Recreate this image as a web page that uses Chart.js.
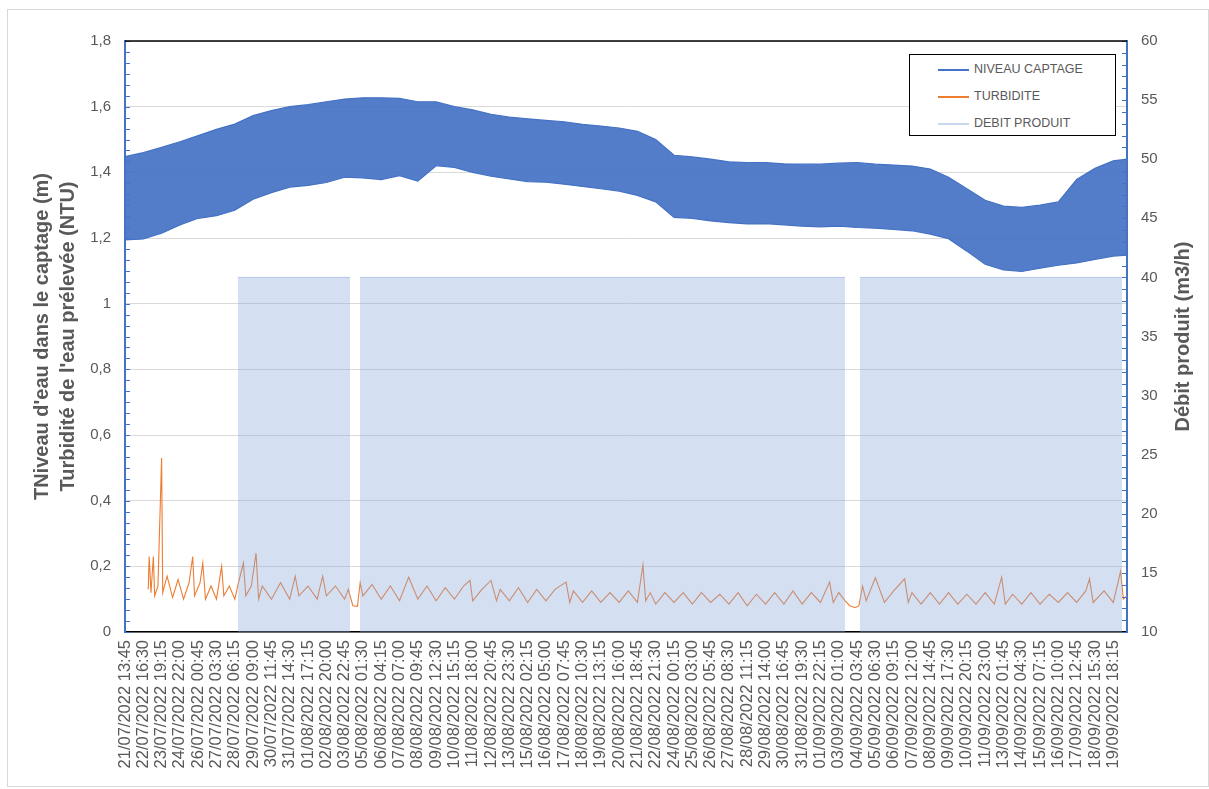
<!DOCTYPE html>
<html lang="fr">
<head>
<meta charset="utf-8">
<title>Niveau captage, turbidité et débit produit</title>
<script src="https://cdn.jsdelivr.net/npm/chart.js@4.4.1/dist/chart.umd.min.js"></script>
<style>
  html, body { margin: 0; padding: 0; background: #fff; }
  #wrap { position: relative; width: 1209px; height: 789px; }
  #cadre { position: absolute; left: 7px; top: 9px; width: 1200px; height: 776px; border: 1px solid #d9d9d9; pointer-events: none; }
  #legende { position: absolute; left: 909px; top: 54px; width: 205px; height: 80px; border: 1.5px solid #000; background: #fff;
             font: 12.5px "Liberation Sans", Arial, sans-serif; color: #595959; }
  .item { position: absolute; left: 28px; height: 14px; line-height: 14px; }
  .trait { position: absolute; left: 0; top: 7px; width: 31px; height: 1.5px; }
  .txt { position: absolute; left: 36px; top: 0; white-space: nowrap; }
</style>
</head>
<body>
<div id="wrap">
  <canvas id="graphe" width="1209" height="789"></canvas>
  <div id="cadre"></div>
  <div id="legende">
    <div class="item" style="top:7px"><span class="trait" style="background:#4472C4"></span><span class="txt">NIVEAU CAPTAGE</span></div>
    <div class="item" style="top:34px"><span class="trait" style="background:#ED7D31"></span><span class="txt">TURBIDITE</span></div>
    <div class="item" style="top:61px"><span class="trait" style="background:#C9D6EE"></span><span class="txt">DEBIT PRODUIT</span></div>
  </div>
</div>
<script>
  // tick labels (one every 107 samples of 15 min)
  const etiquettes = ['21/07/2022 13:45','22/07/2022 16:30','23/07/2022 19:15','24/07/2022 22:00','26/07/2022 00:45','27/07/2022 03:30',
    '28/07/2022 06:15','29/07/2022 09:00','30/07/2022 11:45','31/07/2022 14:30','01/08/2022 17:15','02/08/2022 20:00','03/08/2022 22:45',
    '05/08/2022 01:30','06/08/2022 04:15','07/08/2022 07:00','08/08/2022 09:45','09/08/2022 12:30','10/08/2022 15:15','11/08/2022 18:00',
    '12/08/2022 20:45','13/08/2022 23:30','15/08/2022 02:15','16/08/2022 05:00','17/08/2022 07:45','18/08/2022 10:30','19/08/2022 13:15',
    '20/08/2022 16:00','21/08/2022 18:45','22/08/2022 21:30','24/08/2022 00:15','25/08/2022 03:00','26/08/2022 05:45','27/08/2022 08:30',
    '28/08/2022 11:15','29/08/2022 14:00','30/08/2022 16:45','31/08/2022 19:30','01/09/2022 22:15','03/09/2022 01:00','04/09/2022 03:45',
    '05/09/2022 06:30','06/09/2022 09:15','07/09/2022 12:00','08/09/2022 14:45','09/09/2022 17:30','10/09/2022 20:15','11/09/2022 23:00',
    '13/09/2022 01:45','14/09/2022 04:30','15/09/2022 07:15','16/09/2022 10:00','17/09/2022 12:45','18/09/2022 15:30','19/09/2022 18:15'];
  const FIN = 54.75; // end of record, in label steps

  // niveau captage (m): upper and lower envelope of the pump cycles, one value per label step + end
  const niveauHaut = [1.448,1.46,1.476,1.493,1.512,1.531,1.547,1.573,1.588,1.60,1.606,1.615,1.623,1.627,1.627,1.625,1.615,1.615,1.60,1.59,
    1.577,1.568,1.563,1.558,1.554,1.546,1.541,1.535,1.525,1.50,1.452,1.447,1.44,1.432,1.43,1.43,1.426,1.425,1.425,1.428,
    1.43,1.425,1.422,1.419,1.41,1.385,1.35,1.315,1.297,1.293,1.30,1.31,1.378,1.412,1.435,1.44];
  const niveauBas = [1.194,1.197,1.215,1.24,1.26,1.268,1.285,1.318,1.338,1.355,1.36,1.369,1.385,1.383,1.378,1.39,1.373,1.42,1.415,1.40,
    1.388,1.38,1.372,1.37,1.364,1.357,1.35,1.343,1.33,1.31,1.263,1.26,1.252,1.247,1.243,1.244,1.24,1.236,1.234,1.236,
    1.232,1.23,1.226,1.222,1.212,1.198,1.16,1.12,1.103,1.098,1.108,1.117,1.124,1.135,1.145,1.148];
  const niveauPos = etiquettes.map((e, i) => i).concat([FIN]);

  // turbidité (NTU)
  const turbPos = [1.27,1.32,1.42,1.55,1.62,1.8,2.0,2.06,2.3,2.6,2.9,3.2,3.5,3.7,3.8,4.1,4.25,4.4,4.7,5.0,5.28,5.4,5.7,6.0,6.2,6.47,6.6,6.9,
    7.16,7.3,7.5,8.0,8.5,9.0,9.3,9.5,10.0,10.5,10.8,11.0,11.5,12.0,12.2,12.45,12.7,12.85,13.0,13.5,14.0,14.5,15.0,15.5,16.0,16.5,17.0,
    17.5,18.0,18.5,18.85,19.0,19.5,20.0,20.3,20.5,21.0,21.5,22.0,22.5,23.0,23.5,24.1,24.3,24.5,25.0,25.5,26.0,26.5,27.0,27.5,28.0,28.3,
    28.45,28.7,29.0,29.5,30.0,30.5,31.0,31.5,32.0,32.5,33.0,33.5,34.0,34.5,35.0,35.5,36.0,36.5,37.0,37.5,38.0,38.5,38.7,39.0,39.35,39.6,
    39.9,40.1,40.3,40.5,41.0,41.5,42.0,42.6,42.8,43.0,43.5,44.0,44.5,45.0,45.5,46.0,46.5,47.0,47.5,47.9,48.1,48.5,49.0,49.5,50.0,50.5,
    51.0,51.5,52.0,52.5,52.7,52.9,53.5,54.0,54.4,54.55,54.75];
  const turbidite = [0.13,0.23,0.12,0.23,0.11,0.14,0.53,0.12,0.17,0.105,0.16,0.10,0.15,0.23,0.11,0.15,0.21,0.10,0.14,0.10,0.20,0.11,0.14,0.10,
    0.15,0.21,0.11,0.14,0.24,0.10,0.14,0.10,0.15,0.10,0.17,0.11,0.14,0.10,0.17,0.11,0.14,0.10,0.13,0.08,0.078,0.15,0.11,0.145,0.10,0.14,
    0.095,0.167,0.10,0.14,0.095,0.135,0.10,0.14,0.157,0.095,0.13,0.157,0.095,0.13,0.095,0.135,0.09,0.13,0.095,0.13,0.152,0.09,0.125,0.09,
    0.125,0.09,0.12,0.09,0.125,0.09,0.204,0.095,0.12,0.085,0.12,0.09,0.12,0.085,0.12,0.09,0.115,0.085,0.12,0.08,0.115,0.085,0.12,0.085,
    0.125,0.085,0.12,0.09,0.152,0.09,0.12,0.095,0.08,0.074,0.08,0.14,0.095,0.165,0.09,0.125,0.162,0.09,0.12,0.085,0.12,0.085,0.12,0.085,
    0.115,0.085,0.12,0.085,0.167,0.085,0.115,0.085,0.12,0.085,0.115,0.09,0.12,0.09,0.125,0.162,0.09,0.125,0.09,0.185,0.10,0.11];

  // débit produit (m3/h): pumping periods and flow while pumping
  const debitDebut = [6.17, 12.84, 40.16];
  const debitFin = [12.3, 39.34, 54.48];
  const debitMarche = 40;

  const pts = (xs, ys) => xs.map((x, i) => ({ x: x, y: ys[i] }));
  const debitPts = [];
  debitDebut.forEach((d, i) => {
    debitPts.push({ x: d, y: debitMarche }, { x: debitFin[i], y: debitMarche }, { x: debitFin[i], y: null });
  });

  const POLICE = '"Liberation Sans", Arial, sans-serif';
  const GRIS = '#595959';

  // minor ticks, top border, axis titles
  const habillage = {
    id: 'habillage',
    afterDraw(chart) {
      const ctx = chart.ctx, a = chart.chartArea, sy = chart.scales.y, sy1 = chart.scales.y1;
      ctx.save();
      ctx.strokeStyle = '#4472C4';
      ctx.lineWidth = 1;
      for (let k = 0; k <= 54; k++) {
        const y = Math.round(sy.getPixelForValue(k * 1.8 / 54)) + 0.5;
        ctx.beginPath(); ctx.moveTo(a.left, y); ctx.lineTo(a.left + 5, y); ctx.stroke();
      }
      for (let v = 10; v <= 60; v++) {
        const y = Math.round(sy1.getPixelForValue(v)) + 0.5;
        ctx.beginPath(); ctx.moveTo(a.right, y); ctx.lineTo(a.right - 5, y); ctx.stroke();
      }
      ctx.strokeStyle = '#000';
      ctx.lineWidth = 1.5;
      ctx.beginPath(); ctx.moveTo(a.left, a.top); ctx.lineTo(a.right, a.top); ctx.stroke();

      ctx.fillStyle = GRIS;
      ctx.font = 'bold 20px ' + POLICE;
      ctx.textAlign = 'center';
      ctx.textBaseline = 'middle';
      const cy = (a.top + a.bottom) / 2;
      ctx.translate(42, cy); ctx.rotate(-Math.PI / 2);
      ctx.fillText("TNiveau d'eau dans le captage (m)", 0, 0);
      ctx.fillText("Turbidité de l'eau prélevée (NTU)", 0, 26);
      ctx.setTransform(1, 0, 0, 1, 0, 0);
      ctx.translate(1183, cy); ctx.rotate(-Math.PI / 2);
      ctx.fillText('Débit produit (m3/h)', 0, 0);
      ctx.restore();
    }
  };

  new Chart(document.getElementById('graphe'), {
    type: 'line',
    data: {
      datasets: [
        { label: 'NIVEAU CAPTAGE', data: pts(niveauPos, niveauHaut), yAxisID: 'y', order: 3, fill: '+1',
          borderColor: '#4472C4', borderWidth: 1.2, backgroundColor: 'rgba(68,114,196,0.92)' },
        { label: 'niveau bas', data: pts(niveauPos, niveauBas), yAxisID: 'y', order: 3, fill: false,
          borderColor: '#4472C4', borderWidth: 1.2 },
        { label: 'TURBIDITE', data: pts(turbPos, turbidite), yAxisID: 'y', order: 2, fill: false,
          borderColor: '#ED7D31', borderWidth: 1.1 },
        { label: 'DEBIT PRODUIT', data: debitPts, yAxisID: 'y1', order: 1, fill: 'start', spanGaps: false,
          borderColor: 'rgba(143,170,220,0.6)', borderWidth: 1, backgroundColor: 'rgba(143,170,220,0.38)' }
      ]
    },
    options: {
      responsive: false,
      animation: false,
      layout: { padding: { top: 41, left: 0, right: 0, bottom: 0 } },
      elements: { point: { radius: 0 }, line: { tension: 0 } },
      plugins: { legend: { display: false }, tooltip: { enabled: false } },
      scales: {
        x: {
          type: 'linear', min: 0, max: FIN,
          grid: { display: false, drawTicks: false },
          border: { color: '#000', width: 1.5 },
          ticks: { stepSize: 1, autoSkip: false, maxTicksLimit: 100, includeBounds: false,
                   minRotation: 90, maxRotation: 90, padding: 8, color: GRIS,
                   font: { family: POLICE, size: 16.5 },
                   callback: v => etiquettes[Math.round(v)] || '' },
          afterFit(s) { s.height = 789 - 632; }
        },
        y: {
          position: 'left', min: 0, max: 1.8,
          grid: { color: '#d9d9d9', drawTicks: false },
          border: { color: '#4472C4', width: 2 },
          ticks: { stepSize: 0.2, padding: 14, color: GRIS, font: { family: POLICE, size: 15 },
                   callback: v => Math.abs(v - Math.round(v)) < 1e-9 ? String(Math.round(v)) : v.toFixed(1).replace('.', ',') },
          afterFit(s) { s.width = 125; }
        },
        y1: {
          position: 'right', min: 10, max: 60,
          grid: { display: false, drawTicks: false },
          border: { color: '#4472C4', width: 2 },
          ticks: { stepSize: 5, padding: 14, color: GRIS, font: { family: POLICE, size: 15 } },
          afterFit(s) { s.width = 1209 - 1127; }
        }
      }
    },
    plugins: [habillage]
  });
</script>
</body>
</html>
